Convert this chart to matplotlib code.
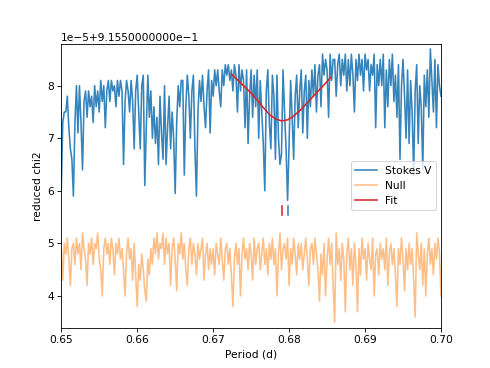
import math

import numpy as np
import matplotlib
matplotlib.use("Agg")
import matplotlib.pyplot as plt
from matplotlib.ticker import ScalarFormatter

OFFSET = 0.9155
SCALE = 1e-5

# period grid, 0.0002 d steps
period = np.linspace(0.65, 0.70, 251)

# reduced chi2 minus offset, in units of 1e-5
stokes_v = [
    6.0, 7.3, 7.5, 7.5, 7.8, 7.2, 6.8, 6.6, 5.9, 7.3,
    8.0, 7.1, 8.0, 7.3, 6.4, 7.7, 7.9, 7.4, 7.9, 7.6,
    7.8, 7.3, 8.0, 7.6, 7.9, 7.5, 8.1, 7.7, 8.0, 7.2,
    7.9, 8.1, 7.7, 8.1, 7.9, 8.0, 7.6, 8.1, 7.8, 8.1,
    7.9, 6.5, 7.7, 8.1, 7.9, 7.5, 8.1, 7.7, 6.8, 7.9,
    8.2, 7.5, 6.8, 8.0, 8.2, 6.1, 7.2, 8.2, 7.4, 7.9,
    7.0, 7.6, 6.9, 7.4, 6.5, 7.8, 7.1, 6.6, 8.0, 6.5,
    7.2, 7.8, 6.8, 7.5, 7.0, 5.95, 7.3, 8.0, 7.6, 8.1,
    8.1, 6.3, 7.6, 8.2, 7.8, 7.0, 7.9, 8.2, 6.8, 5.9,
    7.5, 8.1, 7.7, 8.2, 7.6, 7.2, 7.9, 8.3, 7.1, 8.1,
    7.8, 8.3, 8.0, 8.3, 7.9, 7.6, 8.3, 8.0, 8.4, 8.2,
    8.4, 8.1, 8.3, 7.9, 8.4, 8.2, 7.5, 8.4, 7.9, 8.3,
    8.1, 7.2, 8.3, 6.9, 7.8, 8.3, 7.4, 8.2, 7.6, 8.3,
    7.0, 8.1, 7.5, 6.9, 6.0, 7.9, 8.3, 7.3, 6.8, 8.2,
    7.8, 6.6, 8.2, 7.0, 6.5, 6.7, 8.3, 7.5, 6.8, 5.82,
    6.9, 8.1, 7.4, 6.6, 7.8, 8.2, 7.2, 7.9, 8.3, 7.1,
    7.9, 8.2, 7.0, 8.1, 7.6, 8.3, 7.8, 8.4, 7.5, 8.2,
    8.4, 7.6, 8.6, 8.2, 8.5, 8.3, 7.4, 8.6, 8.1, 8.5,
    8.5, 7.8, 8.4, 8.6, 8.0, 8.5, 8.2, 8.6, 7.9, 8.5,
    8.0, 8.6, 8.2, 7.5, 8.5, 8.1, 8.6, 8.2, 8.5, 7.9,
    8.6, 8.3, 8.5, 7.9, 8.4, 8.2, 8.6, 7.2, 8.4, 8.0,
    8.5, 8.0, 8.6, 7.2, 8.3, 7.6, 8.5, 8.0, 8.6, 7.7,
    8.2, 7.4, 8.4, 6.6, 8.0, 8.5, 7.8, 7.0, 8.3, 6.9,
    8.1, 7.5, 6.3, 7.9, 8.4, 6.9, 8.0, 7.6, 6.4, 8.2,
    7.6, 8.3, 7.4, 8.7, 8.1, 7.5, 8.5, 7.2, 8.4, 8.0,
    7.8,
]

null = [
    4.9, 4.3, 5.0, 4.8, 5.1, 4.7, 4.2, 4.9, 5.0, 4.6,
    5.1, 4.8, 5.0, 4.5, 5.2, 4.9, 4.7, 4.2, 5.0, 4.8,
    5.1, 4.6, 5.0, 4.9, 5.2, 4.7, 4.5, 4.0, 4.9, 5.1,
    4.8, 5.0, 4.6, 5.1, 4.9, 4.4, 5.0, 4.8, 5.1, 4.7,
    4.9, 4.5, 4.0, 4.8, 5.1, 4.7, 4.9, 4.3, 5.0, 4.4,
    3.8, 4.6, 4.3, 4.8, 4.5, 4.1, 3.9, 4.7, 4.4, 4.9,
    4.6, 5.1, 4.8, 5.2, 4.7, 5.0, 4.9, 5.2, 4.6, 5.1,
    4.8, 5.0, 4.2, 4.9, 5.1, 4.7, 4.1, 5.0, 4.8, 5.2,
    4.7, 5.0, 4.5, 4.2, 4.9, 5.1, 4.6, 5.0, 4.8, 4.4,
    5.0, 4.7, 4.9, 5.1, 4.3, 4.8, 5.0, 4.5, 4.9, 4.6,
    4.9, 4.4, 5.0, 4.8, 4.6, 5.1, 4.7, 4.3, 4.9, 5.0,
    4.6, 4.9, 4.4, 3.8, 4.7, 5.0, 4.6, 4.9, 4.0, 4.8,
    5.1, 4.7, 4.9, 4.5, 5.0, 4.8, 4.3, 5.1, 4.6, 4.9,
    5.0, 4.5, 4.8, 5.1, 4.6, 4.9, 4.4, 5.0, 4.7, 5.1,
    4.6, 4.9, 4.0, 4.8, 5.2, 4.5, 4.9, 5.0, 4.7, 5.1,
    4.2, 4.9, 4.6, 5.1, 4.8, 4.4, 5.0, 4.7, 5.0, 4.5,
    4.8, 5.1, 4.7, 4.2, 4.9, 5.0, 4.6, 5.1, 4.8, 4.5,
    3.9, 4.8, 4.4, 5.0, 4.0, 4.7, 5.1, 4.6, 5.0, 4.2,
    3.5, 5.2, 4.6, 4.9, 4.3, 5.0, 4.7, 3.7, 4.8, 5.1,
    4.5, 4.9, 4.2, 5.0, 4.6, 3.7, 4.9, 4.4, 5.1, 4.7,
    4.9, 4.3, 5.0, 4.7, 4.5, 5.1, 4.0, 4.8, 4.9, 4.4,
    5.0, 4.7, 4.9, 4.5, 5.1, 4.2, 4.8, 5.0, 4.6, 4.9,
    4.4, 3.8, 4.9, 4.6, 5.1, 4.7, 4.1, 4.9, 4.5, 5.0,
    4.6, 4.9, 4.3, 3.6, 5.2, 4.8, 4.5, 5.0, 4.2, 4.9,
    4.0, 4.8, 5.1, 4.6, 4.9, 4.4, 5.0, 4.7, 5.1, 4.8,
    4.0,
]

fit_period = [0.6725, 0.6735, 0.6745, 0.6755, 0.6765, 0.6775, 0.6782, 0.6790,
              0.6798, 0.6805, 0.6815, 0.6825, 0.6835, 0.6845, 0.6855]
fit_value = [8.21, 8.07, 7.93, 7.78, 7.60, 7.44, 7.37, 7.33,
             7.35, 7.41, 7.54, 7.69, 7.85, 8.00, 8.16]

# best-period markers
fit_best = 0.6791
min_best = 0.6799
marker_range = [5.54, 5.72]


class OldOffsetFormatter(ScalarFormatter):
    """Offset text the way older matplotlib wrote it (fixed 10 decimals)."""

    def format_data(self, value):
        e = math.floor(math.log10(abs(value)))
        s = round(value / 10 ** e, 10)
        significand = ("%d" % s) if s % 1 == 0 else ("%1.10f" % s)
        if e == 0:
            return significand
        return f"{significand}e{e:d}".replace("-", "\u2212")


def to_chi2(vals):
    return OFFSET + np.asarray(vals) * SCALE


fig, ax = plt.subplots(figsize=(490 / 76.6, 368 / 76.6), dpi=76.6)

ax.plot(period, to_chi2(stokes_v), color="C0", alpha=0.9, label="Stokes V")
ax.plot(period, to_chi2(null), color="C1", alpha=0.5, label="Null")
ax.plot(fit_period, to_chi2(fit_value), color="C3", label="Fit")

ax.plot([fit_best, fit_best], to_chi2(marker_range), color="C3")
ax.plot([min_best, min_best], to_chi2(marker_range), color="C0", alpha=0.9)

ax.yaxis.set_major_formatter(OldOffsetFormatter())
ax.set_xlim(0.65, 0.70)
ax.set_ylim(to_chi2(3.40), to_chi2(8.79))
ax.set_xlabel("Period (d)")
ax.set_ylabel("reduced chi2")
ax.legend(loc="center right")

fig.savefig("out.png", dpi=76.6)
